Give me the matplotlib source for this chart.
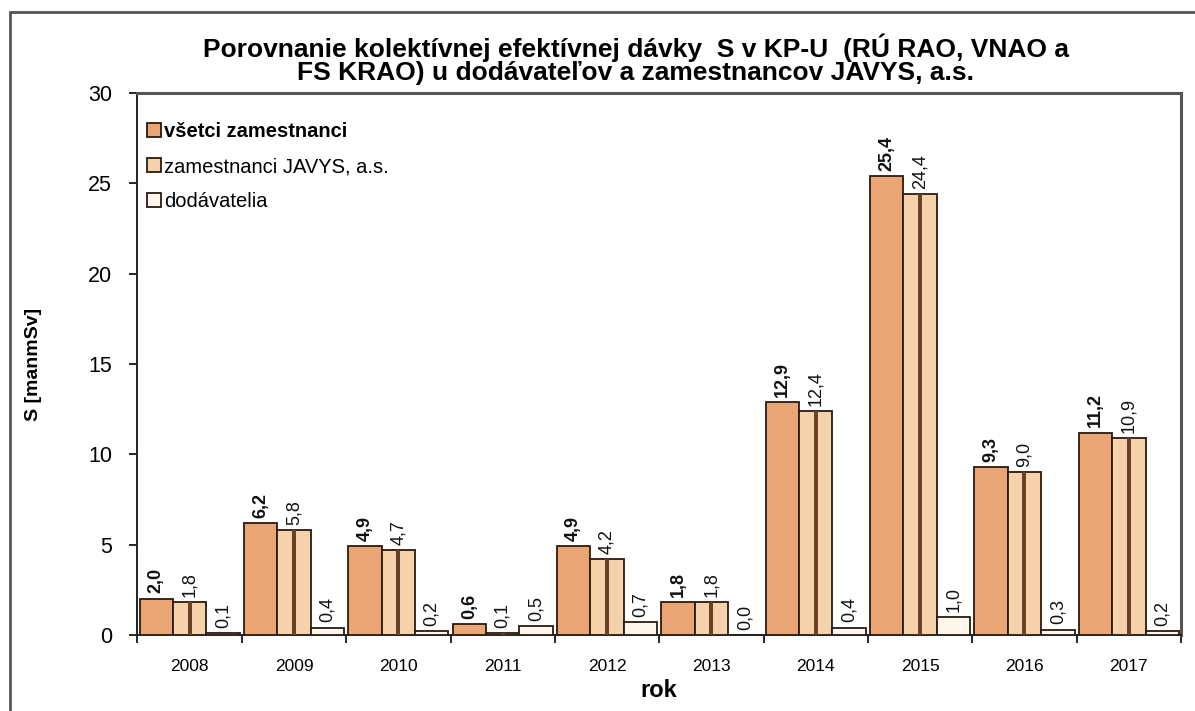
import matplotlib
matplotlib.use("Agg")
import matplotlib.pyplot as plt
import numpy as np
from matplotlib.patches import Rectangle

plt.rcParams['font.family'] = ['Liberation Sans', 'DejaVu Sans']

years = ['2008', '2009', '2010', '2011', '2012', '2013', '2014', '2015', '2016', '2017']
vsetci = [2.0, 6.2, 4.9, 0.6, 4.9, 1.8, 12.9, 25.4, 9.3, 11.2]
javys = [1.8, 5.8, 4.7, 0.1, 4.2, 1.8, 12.4, 24.4, 9.0, 10.9]
dodavatelia = [0.1, 0.4, 0.2, 0.5, 0.7, 0.0, 0.4, 1.0, 0.3, 0.2]
series_names = ['všetci zamestnanci', 'zamestnanci JAVYS, a.s.', 'dodávatelia']

fig = plt.figure(figsize=(11.95, 7.11), dpi=100)
fig.patches.append(Rectangle((0.008, -0.01), 1.2, 0.993, transform=fig.transFigure,
                             fill=False, edgecolor='#555555', linewidth=2.0))
ax = fig.add_axes([0.1146, 0.1069, 0.8737, 0.7623])

x = np.arange(len(years))
w = 0.32
colors = ['#E9A574', '#F6D2AA', '#FFF6EC']
series = [vsetci, javys, dodavatelia]
for i, (vals, c) in enumerate(zip(series, colors)):
    pos = x + (i - 1) * w
    ax.bar(pos, vals, width=w, color=c, edgecolor='#2a1a10', linewidth=1.3,
           label=series_names[i], zorder=3)
    if i == 1:
        ax.bar(pos, vals, width=w * 0.12, color='#6b4025', linewidth=0, zorder=4)
    for p, v in zip(pos, vals):
        ax.text(p, v + 0.3, f"{v:.1f}".replace('.', ','), rotation=90,
                ha='center', va='bottom', fontsize=13,
                fontweight='bold' if i == 0 else 'normal', color='#111111')

ax.set_xlim(-0.5 - 0.005, len(years) - 0.5)
ax.set_ylim(0, 30)
ax.set_yticks(range(0, 31, 5))
ax.set_xticks(x)
ax.set_xticklabels(years, fontsize=12.5)
ax.set_xticks(np.arange(-0.5, len(years), 1.0), minor=True)
ax.tick_params(axis='x', which='major', length=0, pad=17)
ax.tick_params(axis='x', which='minor', length=6, direction='out', width=1.2)
ax.tick_params(axis='y', labelsize=15.5, length=6, width=1.2, pad=12)
for s in ['top', 'right']:
    ax.spines[s].set_color('#555555')
    ax.spines[s].set_linewidth(2.2)
for s in ['left', 'bottom']:
    ax.spines[s].set_color('#222222')
    ax.spines[s].set_linewidth(1.4)

ax.set_ylabel('S [manmSv]', fontsize=14, fontweight='bold', labelpad=33)
ax.set_xlabel('rok', fontsize=17, fontweight='bold', labelpad=4)

fig.text(0.532, 0.917, 'Porovnanie kolektívnej efektívnej dávky  S v KP-U  (RÚ RAO, VNAO a\nFS KRAO) u dodávateľov a zamestnancov JAVYS, a.s.',
         ha='center', va='center', fontsize=19, fontweight='bold', linespacing=0.95)

leg = ax.legend(loc='upper left', bbox_to_anchor=(-0.004, 0.972), frameon=False,
                fontsize=14.5, handlelength=0.7, handleheight=0.7, handletextpad=0.15,
                labelspacing=0.8, borderaxespad=0.3)
leg.get_texts()[0].set_fontweight('bold')

fig.savefig('out.png', dpi=100)
